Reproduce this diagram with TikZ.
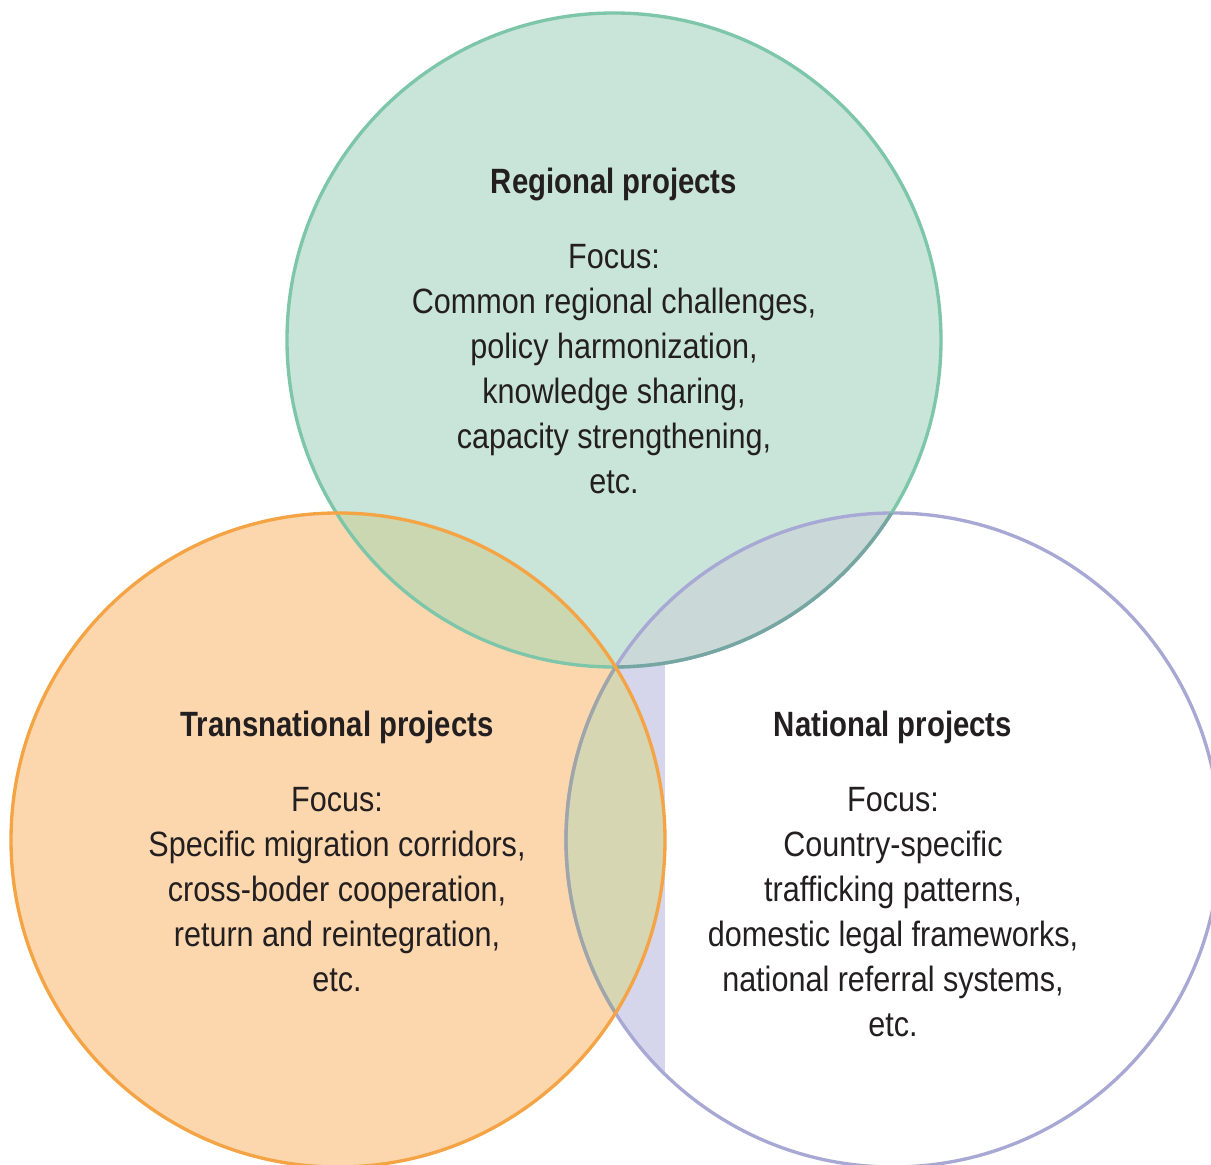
\documentclass[tikz,border=0pt]{standalone}
\usepackage{fontspec}
\setmainfont[FakeStretch=0.87,BoldFeatures={FakeStretch=0.835}]{Liberation Sans}
\usepackage{tikz}
\usetikzlibrary{positioning}

\definecolor{regfill}{HTML}{C9E4D8}
\definecolor{trafill}{HTML}{FCD7AE}
\definecolor{natfill}{HTML}{D5D5EC}
\definecolor{regtrafill}{HTML}{CBD7B0}
\definecolor{regnatfill}{HTML}{CAD9D8}
\definecolor{lensfill}{HTML}{D6D6B2}
\definecolor{regline}{HTML}{7DC6A9}
\definecolor{regdark}{HTML}{76A5A3}
\definecolor{traline}{HTML}{F5A445}
\definecolor{natline}{HTML}{A8A8D5}
\definecolor{natgray}{HTML}{A0A5A8}
\definecolor{txt}{HTML}{231F20}

\tikzset{
  ring/.style={line width=1.9pt},
  headtext/.style={font=\fontsize{20}{25.6}\selectfont\bfseries, text=txt},
  focustext/.style={font=\fontsize{20}{25.6}\selectfont, align=center, text=txt},
}

\begin{document}
\begin{tikzpicture}[x=0.02cm,y=0.02cm]
  \useasboundingbox (0,0) rectangle (1211,1164); % 図全体の範囲
  \fill[regfill] (614,824) circle (327); % 上の円（地域）の塗り
  \fill[trafill] (338,324) circle (327); % 左の円（国境を越える）の塗り
  \fill[white] (893,324) circle (327); % 右の円（国内）の塗り
  \begin{scope}
    \clip (338,324) circle (327); % 左の円の内側だけ
    \fill[regtrafill] (614,824) circle (327); % 上と左の重なり
  \end{scope}
  \begin{scope}
    \clip (893,324) circle (327); % 右の円の内側だけ
    \fill[natfill] (560,80) rectangle (665,530); % 右の円の左端の帯
    \fill[regnatfill] (614,824) circle (327); % 上と右の重なり
  \end{scope}
  \begin{scope}
    \clip (338,324) circle (327); % 左の円の内側だけ
    \fill[lensfill] (893,324) circle (327); % 左と右の重なり
  \end{scope}

  \draw[ring, natline] (893,324) circle (327); % 右の円の輪郭
  \draw[ring, regline] (614,824) circle (327); % 上の円の輪郭
  \begin{scope}
    \clip (893,324) circle (327);
    \draw[ring, regdark] (614,824) circle (327); % 右の円の中の上の円の輪郭
  \end{scope}
  \begin{scope}
    \clip (338,324) circle (327);
    \draw[ring, natgray] (893,324) circle (327); % 左の円の中の右の円の輪郭
  \end{scope}
  \draw[ring, traline] (338,324) circle (327); % 左の円の輪郭

  \node[headtext] (reghead) at (614,980) {Regional projects}; % 上の円の見出し
  \node[focustext] (regfocus) at (614,794.5) {Focus:\\Common regional challenges,\\policy harmonization,\\knowledge sharing,\\capacity strengthening,\\etc.};
  \node[headtext] (trahead) at (337,437) {Transnational projects}; % 左の円の見出し
  \node[focustext] (trafocus) at (337,274) {Focus:\\Specific migration corridors,\\cross-boder cooperation,\\return and reintegration,\\etc.};
  \node[headtext] (nathead) at (893,437) {National projects}; % 右の円の見出し
  \node[focustext] (natfocus) at (893,251.5) {Focus:\\Country-specific\\trafficking patterns,\\domestic legal frameworks,\\national referral systems,\\etc.};
\end{tikzpicture}
\end{document}
